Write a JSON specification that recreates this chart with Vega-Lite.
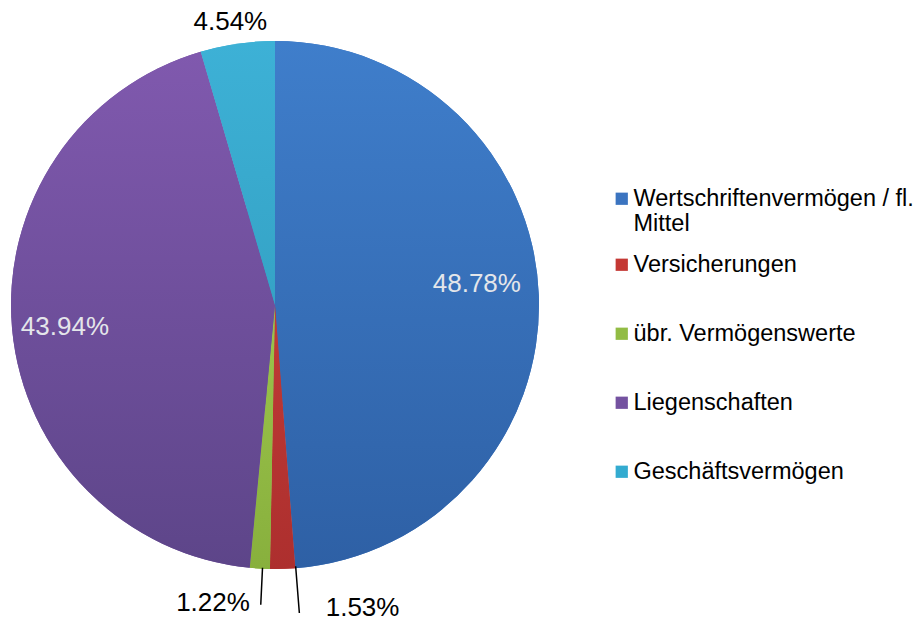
{
  "$schema": "https://vega.github.io/schema/vega-lite/v6.json",
  "width": 550,
  "height": 610,
  "autosize": {"type": "none"},
  "padding": {"left": 0, "top": 0, "right": 374, "bottom": 15},
  "background": "white",
  "config": {"view": {"stroke": null}, "font": "Liberation Sans"},
  "data": {"values": [
    {"i": 1, "cat": "Wertschriftenvermögen / fl. Mittel", "v": 0.4878},
    {"i": 2, "cat": "Versicherungen", "v": 0.0153},
    {"i": 3, "cat": "übr. Vermögenswerte", "v": 0.0122},
    {"i": 4, "cat": "Liegenschaften", "v": 0.4394},
    {"i": 5, "cat": "Geschäftsvermögen", "v": 0.0454}
  ]},
  "resolve": {"scale": {"theta": "independent", "color": "independent"}, "legend": {"color": "independent"}},
  "layer": [
    {
      "transform": [{"filter": "datum.cat === 'Wertschriftenvermögen / fl. Mittel'"}],
      "mark": {"type": "arc", "radius": 100},
      "encoding": {
        "theta": {"field": "v", "type": "quantitative", "stack": true},
        "color": {
          "field": "cat", "type": "nominal",
          "scale": {"domain": ["Wertschriftenvermögen / fl. Mittel"], "range": ["#3b74c0"]},
          "legend": {
            "title": null, "orient": "none", "legendX": 610, "legendY": 187,
            "symbolType": "square", "symbolSize": 150, "symbolStrokeWidth": 0,
            "labelFontSize": 23.5, "labelFont": "Liberation Sans", "labelColor": "black",
            "labelOffset": 0, "labelLimit": 400, "padding": 0,
            "labelExpr": "['Wertschriftenvermögen / fl.', 'Mittel']"
          }
        }
      }
    },
    {
      "mark": {"type": "arc", "radius": 264},
      "encoding": {
        "theta": {"field": "v", "type": "quantitative", "stack": true},
        "order": {"field": "i", "type": "quantitative"},
        "color": {
          "field": "cat", "type": "nominal",
          "scale": {
            "domain": ["Wertschriftenvermögen / fl. Mittel", "Versicherungen", "übr. Vermögenswerte", "Liegenschaften", "Geschäftsvermögen"],
            "range": ["#3b74c0", "#c43834", "#92bc44", "#7452a0", "#33abd0"]
          },
          "legend": {
            "title": null, "orient": "none", "legendX": 610, "legendY": 253,
            "values": ["Versicherungen", "übr. Vermögenswerte", "Liegenschaften", "Geschäftsvermögen"],
            "symbolType": "square", "symbolSize": 150, "symbolStrokeWidth": 0,
            "labelFontSize": 23.5, "labelFont": "Liberation Sans", "labelColor": "black",
            "labelOffset": 0, "rowPadding": 44, "labelLimit": 400, "padding": 0
          }
        }
      }
    },
    {
      "mark": {"type": "arc", "radius": 264},
      "encoding": {
        "theta": {"field": "v", "type": "quantitative", "stack": true},
        "order": {"field": "i", "type": "quantitative"},
        "detail": {"field": "cat"},
        "fill": {
          "condition": [
            {"test": "datum.cat === 'Wertschriftenvermögen / fl. Mittel'", "value": {"gradient": "linear", "x1": 0, "y1": 0, "x2": 0, "y2": 1, "stops": [{"offset": 0, "color": "#3f7ecb"}, {"offset": 1, "color": "#2e60a5"}]}},
            {"test": "datum.cat === 'Versicherungen'", "value": {"gradient": "linear", "x1": 0, "y1": 0, "x2": 0, "y2": 1, "stops": [{"offset": 0, "color": "#bf3a36"}, {"offset": 1, "color": "#ad2f2e"}]}},
            {"test": "datum.cat === 'übr. Vermögenswerte'", "value": {"gradient": "linear", "x1": 0, "y1": 0, "x2": 0, "y2": 1, "stops": [{"offset": 0, "color": "#9cc44c"}, {"offset": 1, "color": "#88b03d"}]}},
            {"test": "datum.cat === 'Liegenschaften'", "value": {"gradient": "linear", "x1": 0, "y1": 0, "x2": 0, "y2": 1, "stops": [{"offset": 0, "color": "#8059ae"}, {"offset": 1, "color": "#5d4589"}]}}
          ],
          "value": {"gradient": "linear", "x1": 0, "y1": 0, "x2": 0, "y2": 1, "stops": [{"offset": 0, "color": "#3db1d6"}, {"offset": 1, "color": "#35a3c6"}]}
        }
      }
    },
    {
      "mark": {"type": "text", "radius": 202, "dy": -13, "fontSize": 26, "font": "Liberation Sans", "color": "#e4e6ea"},
      "encoding": {
        "theta": {"field": "v", "type": "quantitative", "stack": true},
        "order": {"field": "i", "type": "quantitative"},
        "detail": {"field": "cat"},
        "text": {"condition": {"test": "datum.cat === 'Wertschriftenvermögen / fl. Mittel'", "field": "v", "format": ".2%"}, "value": ""}
      }
    },
    {
      "mark": {"type": "text", "radius": 211, "dy": 2, "fontSize": 26, "font": "Liberation Sans", "color": "#e4e6ea"},
      "encoding": {
        "theta": {"field": "v", "type": "quantitative", "stack": true},
        "order": {"field": "i", "type": "quantitative"},
        "detail": {"field": "cat"},
        "text": {"condition": {"test": "datum.cat === 'Liegenschaften'", "field": "v", "format": ".2%"}, "value": ""}
      }
    },
    {
      "mark": {"type": "text", "radius": 286, "dx": -4, "fontSize": 26, "font": "Liberation Sans", "color": "black"},
      "encoding": {
        "theta": {"field": "v", "type": "quantitative", "stack": true},
        "order": {"field": "i", "type": "quantitative"},
        "detail": {"field": "cat"},
        "text": {"condition": {"test": "datum.cat === 'Geschäftsvermögen'", "field": "v", "format": ".2%"}, "value": ""}
      }
    },
    {
      "mark": {"type": "text", "radius": 298, "dx": -8, "align": "right", "fontSize": 26, "font": "Liberation Sans", "color": "black"},
      "encoding": {
        "theta": {"field": "v", "type": "quantitative", "stack": true},
        "order": {"field": "i", "type": "quantitative"},
        "detail": {"field": "cat"},
        "text": {"condition": {"test": "datum.cat === 'übr. Vermögenswerte'", "field": "v", "format": ".2%"}, "value": ""}
      }
    },
    {
      "mark": {"type": "text", "radius": 302, "dx": 42, "dy": 1, "align": "left", "fontSize": 26, "font": "Liberation Sans", "color": "black"},
      "encoding": {
        "theta": {"field": "v", "type": "quantitative", "stack": true},
        "order": {"field": "i", "type": "quantitative"},
        "detail": {"field": "cat"},
        "text": {"condition": {"test": "datum.cat === 'Versicherungen'", "field": "v", "format": ".2%"}, "value": ""}
      }
    },
    {
      "mark": {"type": "arc", "radius": 263, "radius2": 300, "padAngle": 3, "fill": "transparent", "stroke": "black", "strokeWidth": 1.5},
      "encoding": {
        "theta": {"field": "v", "type": "quantitative", "stack": true, "scale": {"range": [-0.01, 6.2732]}},
        "order": {"field": "i", "type": "quantitative"},
        "detail": {"field": "cat"},
        "strokeOpacity": {"condition": {"test": "datum.cat === 'übr. Vermögenswerte'", "value": 1}, "value": 0}
      }
    },
    {
      "mark": {"type": "arc", "radius": 262, "radius2": 309, "padAngle": 3, "fill": "transparent", "stroke": "black", "strokeWidth": 1.5},
      "encoding": {
        "theta": {"field": "v", "type": "quantitative", "stack": true, "scale": {"range": [-0.05, 6.2332]}},
        "order": {"field": "i", "type": "quantitative"},
        "detail": {"field": "cat"},
        "strokeOpacity": {"condition": {"test": "datum.cat === 'Versicherungen'", "value": 1}, "value": 0}
      }
    }
  ]
}
